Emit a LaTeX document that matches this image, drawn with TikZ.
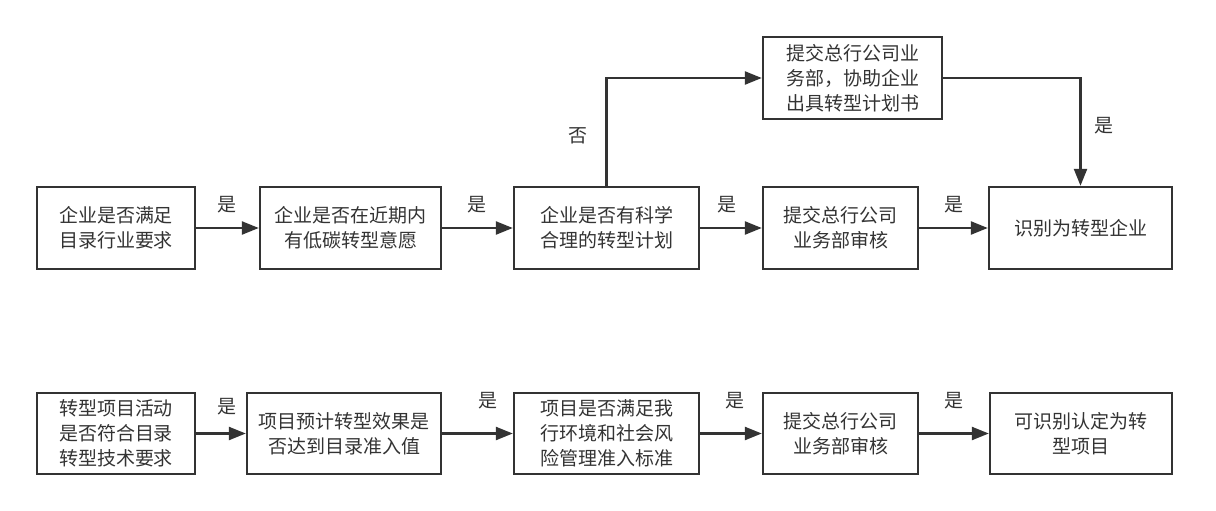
\documentclass[tikz,border=0pt]{standalone}
\usepackage{fontspec}
\setmainfont{Noto Sans CJK SC}
\usetikzlibrary{arrows.meta}
\definecolor{ink}{HTML}{333333}
\tikzset{
  box/.style={draw=ink, line width=2.4pt, text=ink, inner sep=0pt, align=center,
    font=\fontsize{19pt}{25pt}\selectfont, minimum height=82pt},
  conn/.style={draw=ink, line width=2.4pt, -{Triangle[length=17pt,width=13pt]}},
  lbl/.style={text=ink, font=\fontsize{19pt}{25pt}\selectfont, inner sep=0pt},
}
\begin{document}
\begin{tikzpicture}[x=1pt,y=-1pt]
\useasboundingbox (0,0) rectangle (1216,511);
% top row
\node[box, minimum width=158pt] (a1) at (116,228) {企业是否满足\\目录行业要求};
\node[box, minimum width=181pt] (a2) at (350.5,228) {企业是否在近期内\\有低碳转型意愿};
\node[box, minimum width=185pt] (a3) at (606.5,228) {企业是否有科学\\合理的转型计划};
\node[box, minimum width=155pt] (a4) at (840.5,228) {提交总行公司\\业务部审核};
\node[box, minimum width=183pt] (a5) at (1080.5,228) {识别为转型企业};
\node[box, minimum width=179pt] (t) at (852.5,78) {提交总行公司业\\务部，协助企业\\出具转型计划书};
% bottom row
\node[box, minimum width=158pt, minimum height=81pt] (b1) at (116,433.5) {转型项目活动\\是否符合目录\\转型技术要求};
\node[box, minimum width=194pt, minimum height=81pt] (b2) at (344,433.5) {项目预计转型效果是\\否达到目录准入值};
\node[box, minimum width=185pt, minimum height=81pt] (b3) at (606.5,433.5) {项目是否满足我\\行环境和社会风\\险管理准入标准};
\node[box, minimum width=155pt, minimum height=81pt] (b4) at (840.5,433.5) {提交总行公司\\业务部审核};
\node[box, minimum width=182pt, minimum height=81pt] (b5) at (1081,433.5) {可识别认定为转\\型项目};
% connectors top
\draw[conn] (a1) -- (a2);
\draw[conn] (a2) -- (a3);
\draw[conn] (a3) -- (a4);
\draw[conn] (a4) -- (a5);
\draw[conn] (a3.north) |- (t.west);
\draw[conn] (t.east) -| (a5.north);
% connectors bottom
\draw[conn] (b1) -- (b2);
\draw[conn] (b2) -- (b3);
\draw[conn] (b3) -- (b4);
\draw[conn] (b4) -- (b5);
% labels
\node[lbl] (l1) at (227,205) {是};
\node[lbl] (l2) at (477,205) {是};
\node[lbl] (l3) at (727,205) {是};
\node[lbl] (l4) at (954,205) {是};
\node[lbl] (l5) at (578,136) {否};
\node[lbl] (l6) at (1104,126) {是};
\node[lbl] (m1) at (227,407) {是};
\node[lbl] (m2) at (488,401) {是};
\node[lbl] (m3) at (735,401) {是};
\node[lbl] (m4) at (954,401) {是};
\end{tikzpicture}
\end{document}
